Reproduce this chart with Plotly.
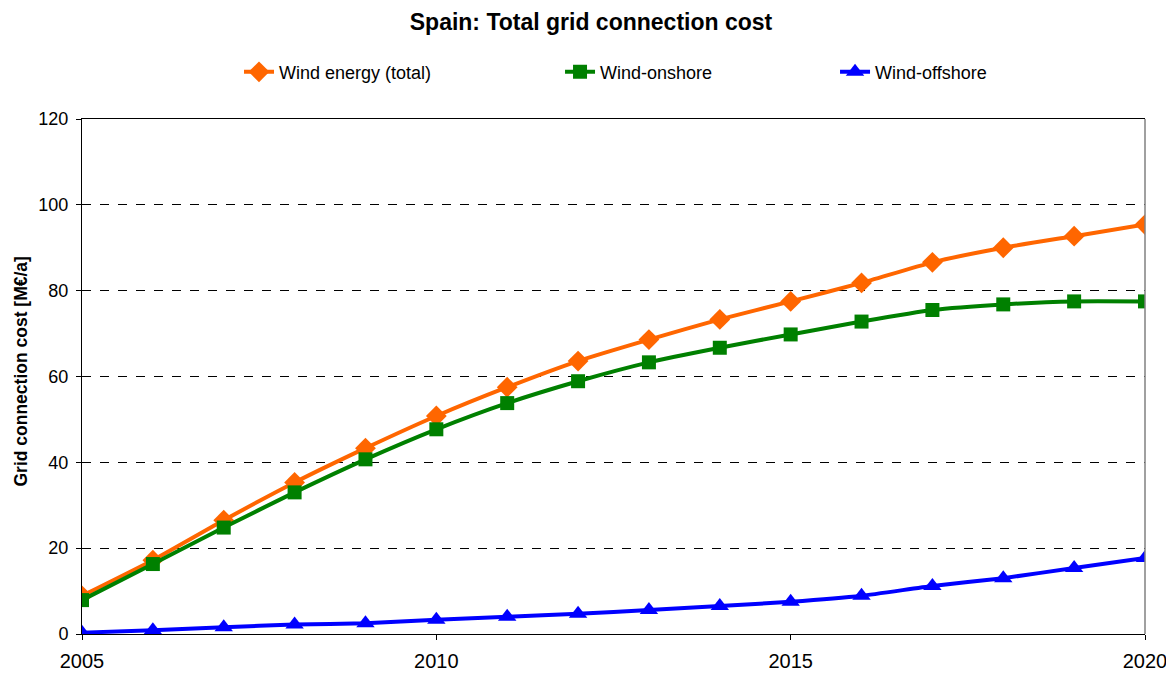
import plotly.graph_objects as go

years = list(range(2005, 2021))
total = [8.9, 17.2, 26.5, 35.3, 43.3, 50.8, 57.5, 63.6, 68.6, 73.3, 77.5, 81.8, 86.6, 90.0, 92.7, 95.4]
onshore = [7.9, 16.3, 24.8, 33.0, 40.7, 47.7, 53.8, 58.9, 63.3, 66.7, 69.8, 72.8, 75.5, 76.8, 77.5, 77.5]
offshore = [0.3, 0.9, 1.6, 2.2, 2.5, 3.3, 4.0, 4.7, 5.6, 6.5, 7.5, 8.9, 11.2, 13.0, 15.4, 17.7]

names = ["Wind energy (total)", "Wind-onshore", "Wind-offshore"]
colors = ["#FF6600", "#008000", "#0000FF"]
symbols = ["diamond", "square", "triangle-up"]
sizes = [16, 14, 16]
series = [total, onshore, offshore]
legends = ["legend", "legend2", "legend3"]

FONT = "Liberation Sans, Arial, sans-serif"

fig = go.Figure()
for s, n, c, sym, sz, lg in zip(series, names, colors, symbols, sizes, legends):
    fig.add_trace(go.Scatter(
        x=years, y=s, name=n, mode="lines+markers",
        line=dict(color=c, width=4, shape="spline", smoothing=0.5),
        marker=dict(symbol=sym, size=sz, color=c),
        legend=lg, showlegend=True,
    ))

leg_common = dict(orientation="h", yanchor="middle", xanchor="left", y=1.091,
                  font=dict(family=FONT, size=18, color="black"),
                  bgcolor="rgba(0,0,0,0)", borderwidth=0, visible=True)

fig.update_layout(
    width=1166, height=663,
    margin=dict(l=74, r=29, t=111, b=37),
    showlegend=True,
    paper_bgcolor="white", plot_bgcolor="white",
    font=dict(family=FONT, color="black"),
    title=dict(text="<b>Spain: Total grid connection cost</b>", x=0.5, xanchor="center",
               xref="container", y=0.979, yanchor="middle", yref="container",
               font=dict(family=FONT, size=23, color="black")),
    legend=dict(x=0.1477, **leg_common),
    legend2=dict(x=0.4497, **leg_common),
    legend3=dict(x=0.7084, **leg_common),
    xaxis=dict(range=[2005, 2020], tickvals=[2005, 2010, 2015, 2020],
               ticks="outside", ticklen=5, tickcolor="black", ticklabelstandoff=4,
               showline=True, linecolor="black", linewidth=1, mirror=True,
               showgrid=False, zeroline=False, automargin=False,
               tickfont=dict(family=FONT, size=20, color="black")),
    yaxis=dict(range=[0, 120], dtick=20, ticks="outside", ticklen=5, tickcolor="black",
               ticklabelstandoff=4, automargin=False,
               showline=True, linecolor="black", linewidth=1,
               showgrid=True, gridcolor="black", griddash="dash", gridwidth=1,
               zeroline=False,
               tickfont=dict(family=FONT, size=18, color="black")),
)
fig.add_annotation(text="<b>Grid connection cost [M€/a]</b>", textangle=-90,
                   xref="paper", yref="paper", x=-0.0583, y=0.5097,
                   xanchor="center", yanchor="middle", showarrow=False,
                   font=dict(family=FONT, size=17.5, color="black"))
fig.add_shape(type="line", xref="paper", yref="paper", x0=1, x1=1, y0=0, y1=1,
              line=dict(color="#808080", width=1.5))

fig.write_html("out.html")
